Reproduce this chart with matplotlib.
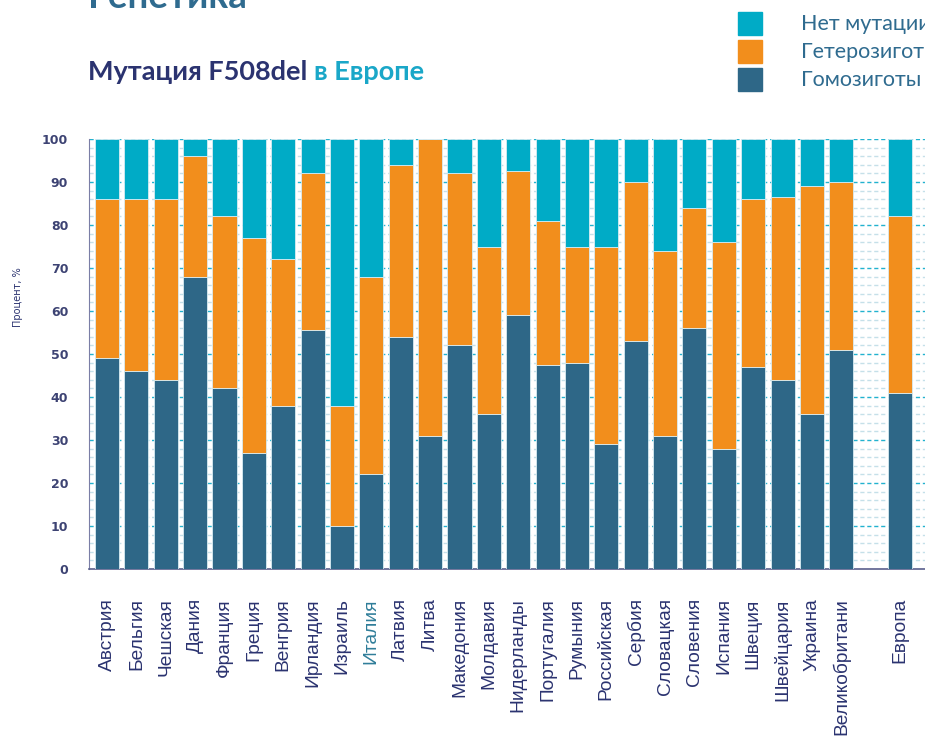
import matplotlib
matplotlib.use("Agg")
import matplotlib.pyplot as plt
from matplotlib.patches import Rectangle
import numpy as np

# data (percent of patients)
countries = ["Австрия", "Бельгия", "Чешская", "Дания", "Франция", "Греция",
             "Венгрия", "Ирландия", "Израиль", "Италия", "Латвия", "Литва",
             "Македония", "Молдавия", "Нидерланды", "Португалия", "Румыния",
             "Российская", "Сербия", "Словацкая", "Словения", "Испания",
             "Швеция", "Швейцария", "Украина", "Великобритани", "Европа"]
homozygous = [49, 46, 44, 68, 42, 27, 38, 55.5, 10, 22, 54, 31, 52, 36, 59,
              47.5, 48, 29, 53, 31, 56, 28, 47, 44, 36, 51, 41]
heterozygous = [37, 40, 42, 28, 40, 50, 34, 36.5, 28, 46, 40, 69, 40, 39, 33.5,
                33.5, 27, 46, 37, 43, 28, 48, 39, 42.5, 53, 39, 41]
no_mutation = [14, 14, 14, 4, 18, 23, 28, 8, 62, 32, 6, 0, 8, 25, 7.5,
               19, 25, 25, 10, 26, 16, 24, 14, 13.5, 11, 10, 18]
legend_labels = ["Нет мутации", "Гетерозиготы", "Гомозиготы"]

C_NONE = "#00abc6"
C_HET = "#f28e1c"
C_HOM = "#2e6787"
NAVY = "#2b3370"
TEAL_TXT = "#2f6b8f"

fig = plt.figure(figsize=(9.25, 7.38), dpi=100)
ax = fig.add_axes([89 / 925, 169 / 738, 1 - 89 / 925, 430 / 738])

# positions: a gap before the Europe bar
x = np.array(list(range(len(countries) - 1)) + [len(countries)], dtype=float)
hom = np.array(homozygous)
het = np.array(heterozygous)
non = np.array(no_mutation)
w = 0.82
ax.bar(x, hom, w, color=C_HOM, edgecolor="#d8ecf2", linewidth=0.6, zorder=3)
ax.bar(x, het, w, bottom=hom, color=C_HET, edgecolor="#d8ecf2", linewidth=0.6, zorder=3)
ax.bar(x, non, w, bottom=hom + het, color=C_NONE, edgecolor="#d8ecf2", linewidth=0.6, zorder=3)

ax.set_xlim(-0.613, 27.85)
ax.set_ylim(0, 100)

# dashed grid: light every 2, stronger every 10
for v in range(2, 101, 2):
    if v % 10 == 0:
        ax.axhline(v, color="#22b2cf", lw=1.0, ls=(0, (3, 2)), zorder=1)
    else:
        ax.axhline(v, color="#c5e0e9", lw=1.0, ls=(0, (3, 2)), zorder=1)

ax.set_yticks(range(0, 101, 10))
ax.set_yticklabels([str(v) for v in range(0, 101, 10)], fontsize=9,
                   fontweight="bold", color="#3d4373", family="DejaVu Sans")
ax.tick_params(axis="y", length=0, pad=15)
ax.set_xticks(x)
ax.set_xticklabels(countries, rotation=90, fontsize=13.8, color=NAVY,
                   family="Liberation Sans", va="top")
ax.get_xticklabels()[countries.index("Италия")].set_color("#2f7d99")
ax.tick_params(axis="x", length=0, pad=21)

for s in ["top", "right"]:
    ax.spines[s].set_visible(False)
ax.spines["left"].set_color("#7a7ea6")
ax.spines["bottom"].set_color("#5a5f8c")
ax.spines["bottom"].set_linewidth(1.2)
ax.set_facecolor("white")

fig.text(18 / 925, 1 - 297 / 738, "Процент, %", rotation=90, fontsize=7,
         color=NAVY, ha="center", va="center")

# headings
fig.text(88 / 925, 1 - 8 / 738, "Генетика", fontsize=26.5, fontweight="bold",
         color=TEAL_TXT, family="Lato", ha="left", va="baseline")
t1 = fig.text(88 / 925, 1 - 80 / 738, "Мутация F508del ", fontsize=19.5,
              fontweight="bold", color=NAVY, family="Lato", ha="left", va="baseline")
fig.canvas.draw()
bb = t1.get_window_extent()
fig.text(bb.x1 / 925, 1 - 80 / 738, "в Европе", fontsize=19.5, fontweight="bold",
         color="#1aa7c8", family="Lato", ha="left", va="baseline")

# legend drawn by hand, cut by the right edge like the original
for i, (lab, col) in enumerate(zip(legend_labels, [C_NONE, C_HET, C_HOM])):
    y0 = 12 + i * 28
    fig.patches.append(Rectangle((738 / 925, 1 - (y0 + 23) / 738), 24 / 925, 23 / 738,
                                 transform=fig.transFigure, color=col))
    fig.text(801 / 925, 1 - (y0 + 11.5) / 738, lab, fontsize=15.5, color=TEAL_TXT,
             family="Lato", ha="left", va="center")

fig.savefig("out.png", dpi=100)
